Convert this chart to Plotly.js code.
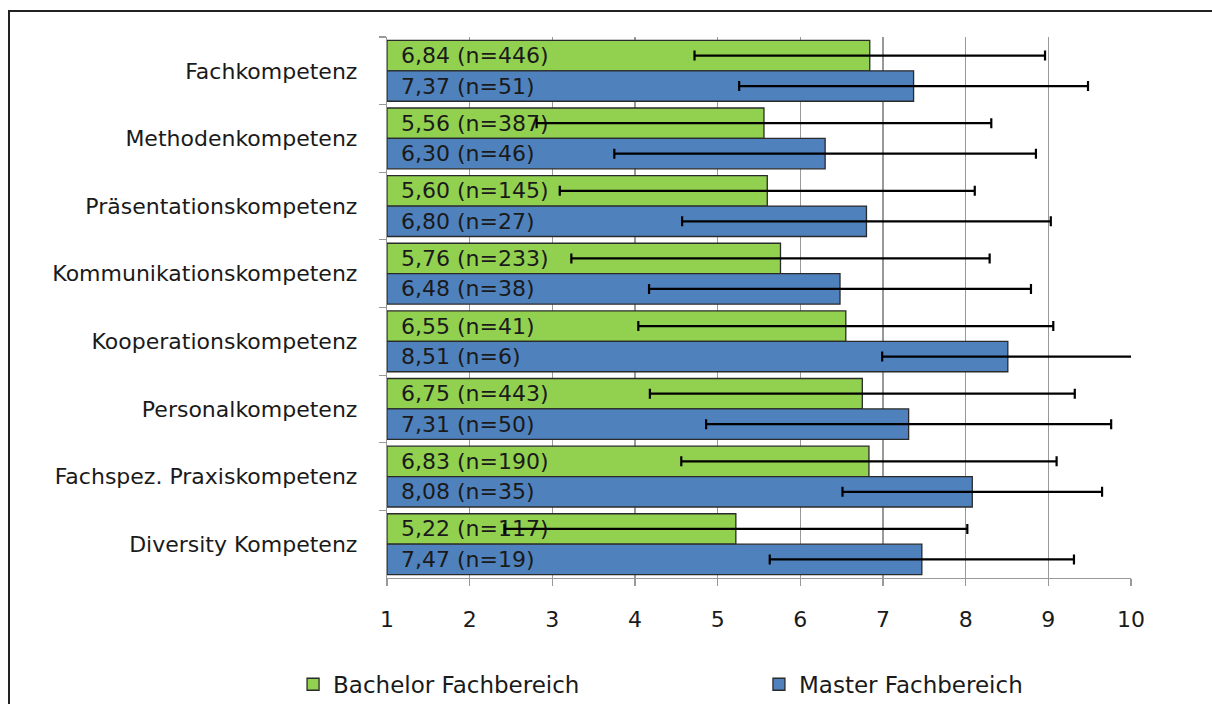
<!DOCTYPE html>
<html>
<head>
<meta charset="utf-8">
<script src="https://cdn.plot.ly/plotly-3.0.1.min.js"></script>
<style>
  html, body { margin: 0; padding: 0; background: #fff; }
  #chart { width: 1212px; height: 704px; }
  #frame { position: absolute; left: 8px; top: 10px; width: 1204px; height: 694px;
           border-left: 2px solid #222; border-top: 2px solid #222; pointer-events: none; }
</style>
</head>
<body>
<div id="chart"></div>
<div id="frame"></div>
<script>
const categories = [
  "Fachkompetenz",
  "Methodenkompetenz",
  "Präsentationskompetenz",
  "Kommunikationskompetenz",
  "Kooperationskompetenz",
  "Personalkompetenz",
  "Fachspez. Praxiskompetenz",
  "Diversity Kompetenz"
];
const bachelorMean = [6.84, 5.56, 5.60, 5.76, 6.55, 6.75, 6.83, 5.22];
const bachelorN    = [446, 387, 145, 233, 41, 443, 190, 117];
const bachelorSD   = [2.12, 2.75, 2.51, 2.53, 2.51, 2.57, 2.27, 2.80];
const masterMean   = [7.37, 6.30, 6.80, 6.48, 8.51, 7.31, 8.08, 7.47];
const masterN      = [51, 46, 27, 38, 6, 50, 35, 19];
const masterSD     = [2.11, 2.55, 2.23, 2.31, 1.52, 2.45, 1.57, 1.84];
const xTicks = [1, 2, 3, 4, 5, 6, 7, 8, 9, 10];
const seriesNames = ["Bachelor Fachbereich", "Master Fachbereich"];

const FONT = "DejaVu Sans, Liberation Sans, sans-serif";
const AXIS_MIN = 1;

function label(v, n) {
  return "\u2002" + v.toFixed(2).replace(".", ",") + " (n=" + n + ")";
}

function makeTrace(name, means, ns, sds, color, legendId) {
  return {
    type: "bar",
    orientation: "h",
    name: name,
    legend: legendId,
    y: categories,
    x: means.map(v => v - AXIS_MIN),
    base: AXIS_MIN,
    text: means.map((v, i) => label(v, ns[i])),
    textposition: "inside",
    insidetextanchor: "start",
    textangle: 0,
    constraintext: "none",
    textfont: { family: FONT, size: 22, color: "#1a1a1a" },
    marker: { color: color, line: { color: "#2a2a2a", width: 1.3 } },
    error_x: { type: "data", array: sds, symmetric: true, color: "#000", thickness: 2.2, width: 5 },
    hoverinfo: "none"
  };
}

const data = [
  makeTrace(seriesNames[0], bachelorMean, bachelorN, bachelorSD, "#92D050", "legend"),
  makeTrace(seriesNames[1], masterMean, masterN, masterSD, "#4F81BD", "legend2")
];

const legendBase = {
  orientation: "h",
  xref: "container", yref: "container",
  xanchor: "left", yanchor: "middle",
  y: 0.028,
  font: { family: FONT, size: 23, color: "#1a1a1a" },
  bgcolor: "rgba(0,0,0,0)"
};

const layout = {
  width: 1212,
  height: 704,
  margin: { l: 387, r: 81, t: 37, b: 126, autoexpand: false },
  paper_bgcolor: "#fff",
  plot_bgcolor: "#fff",
  font: { family: FONT, size: 22, color: "#1a1a1a" },
  barmode: "group",
  bargap: 0.1,
  bargroupgap: 0,
  showlegend: true,
  legend: Object.assign({}, legendBase, { x: 0.2418 }),
  legend2: Object.assign({}, legendBase, { x: 0.6262 }),
  xaxis: {
    range: [1, 10],
    tickvals: xTicks,
    ticktext: xTicks.map(String),
    showgrid: true,
    gridcolor: "#999",
    gridwidth: 1.2,
    zeroline: false,
    showline: true,
    linecolor: "#999",
    linewidth: 1.2,
    ticks: "outside",
    ticklen: 7,
    tickcolor: "#999",
    tickwidth: 1.2,
    ticklabelstandoff: 14,
    tickfont: { family: FONT, size: 22, color: "#1a1a1a" },
    fixedrange: true
  },
  yaxis: {
    type: "category",
    autorange: "reversed",
    showgrid: false,
    showline: true,
    linecolor: "#999",
    linewidth: 1.2,
    ticks: "outside",
    tickson: "boundaries",
    ticklen: 7,
    tickcolor: "#999",
    tickwidth: 1.2,
    ticklabelstandoff: 24,
    tickfont: { family: FONT, size: 22, color: "#1a1a1a" },
    fixedrange: true
  }
};

Plotly.newPlot("chart", data, layout, { displayModeBar: false, staticPlot: true });
</script>
</body>
</html>
